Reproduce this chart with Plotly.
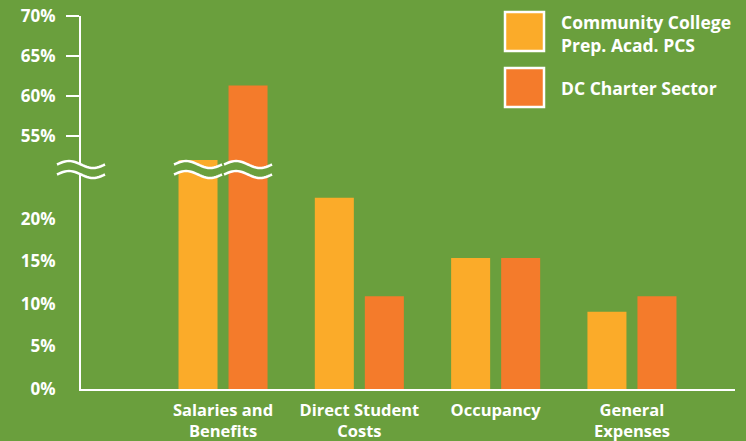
import math
import plotly.graph_objects as go

# ---------------- data ----------------
categories = ["Salaries and<br>Benefits", "Direct Student<br>Costs", "Occupancy", "General<br>Expenses"]
ccp_values = [52.0, 22.5, 15.4, 9.1]          # Community College Prep. Acad. PCS
dc_values = [61.3, 10.9, 15.4, 10.9]          # DC Charter Sector
series_names = ["Community College<br>Prep. Acad. PCS", "DC Charter Sector"]
lower_tick_vals = [0, 5, 10, 15, 20]
upper_tick_vals = [55, 60, 65, 70]

# ---------------- style ----------------
BG = "#6a9f3d"
YELLOW = "#fbab29"
ORANGE = "#f47b2b"
WHITE = "#ffffff"
FONT = "Open Sans"

W, H = 746, 441
L, R, T, B = 81, 11, 16, 52
PW, PH = W - L - R, H - T - B
X_RANGE = [-1.042, 3.756]
SPLIT = 0.5871
LOWER_RANGE = [0, 25.765]
UPPER_RANGE = [50.75, 70]


def px2x(px):
    return (px - L) / PW


def py2y(py):
    return (H - B - py) / PH


def idx2px(i):
    return L + (i - X_RANGE[0]) / (X_RANGE[1] - X_RANGE[0]) * PW


fig = go.Figure()
colors = [YELLOW, ORANGE]
vals = [ccp_values, dc_values]
for ya in ["y", "y2"]:
    for k in range(2):
        fig.add_trace(go.Bar(
            x=categories, y=vals[k], name=series_names[k],
            marker=dict(color=colors[k], line=dict(width=0)),
            yaxis=ya, showlegend=False, hoverinfo="skip",
        ))

tickfont = dict(family=FONT, size=17, color=WHITE, weight="bold")
pct = [f"{v}%" for v in lower_tick_vals]
pct_u = [f"{v}%" for v in upper_tick_vals]

fig.update_layout(
    width=W, height=H,
    margin=dict(l=L, r=R, t=T, b=B, pad=0),
    paper_bgcolor=BG, plot_bgcolor=BG,
    barmode="group", bargap=0.266, bargroupgap=0.22,
    showlegend=False,
    xaxis=dict(
        type="category", range=X_RANGE, anchor="y", automargin=False,
        showline=True, linecolor=WHITE, linewidth=2,
        ticks="", showgrid=False, zeroline=False,
        tickfont=dict(family=FONT, size=16.5, color=WHITE, weight="bold"),
        ticklabelstandoff=5,
    ),
    yaxis=dict(
        domain=[0, SPLIT], range=LOWER_RANGE, anchor="x", automargin=False,
        showline=True, linecolor=WHITE, linewidth=2,
        tickvals=lower_tick_vals, ticktext=pct, ticks="",
        showgrid=False, zeroline=False, tickfont=tickfont,
        ticklabelstandoff=20,
    ),
    yaxis3=dict(
        domain=[0, SPLIT], range=LOWER_RANGE, anchor="x", overlaying="y",
        side="left", showline=False, showticklabels=False, automargin=False,
        tickvals=lower_tick_vals[1:], ticks="outside", ticklen=13,
        tickwidth=2, tickcolor=WHITE, showgrid=False, zeroline=False,
    ),
    yaxis2=dict(
        domain=[SPLIT, 1], range=UPPER_RANGE, anchor="x", automargin=False,
        showline=True, linecolor=WHITE, linewidth=2,
        tickvals=upper_tick_vals, ticktext=pct_u, ticks="outside",
        ticklen=13, tickwidth=2, tickcolor=WHITE,
        showgrid=False, zeroline=False, tickfont=tickfont,
        ticklabelstandoff=7,
    ),
)


# ---------------- axis break (wavy band) ----------------
def wave_pts(x0, x1, yc, amp=3.5, n=24):
    pts = []
    for i in range(n + 1):
        t = i / n
        pts.append((x0 + (x1 - x0) * t, yc - amp * math.sin(2 * math.pi * t)))
    return pts


def path_of(pts, close=False):
    s = "M " + " L ".join(f"{px2x(x):.5f},{py2y(y):.5f}" for x, y in pts)
    return s + (" Z" if close else "")


TOP_Y, BOT_Y = 164.5, 174.5
segments = [(57, 105)]
slot_px = PW / (X_RANGE[1] - X_RANGE[0]) * (1 - 0.266) / 2
c0 = idx2px(0)
segments.append((c0 - slot_px / 2 - 24, c0 - slot_px / 2 + 24))
segments.append((c0 + slot_px / 2 - 24, c0 + slot_px / 2 + 24))

for x0, x1 in segments:
    top = wave_pts(x0, x1, TOP_Y)
    bot = wave_pts(x0, x1, BOT_Y)
    fig.add_shape(type="path", xref="paper", yref="paper",
                  path=path_of(top + bot[::-1], close=True),
                  fillcolor=BG, line=dict(width=0), layer="above")
    for w in (top, bot):
        fig.add_shape(type="path", xref="paper", yref="paper",
                      path=path_of(w), line=dict(color=WHITE, width=2.5),
                      layer="above")

# ---------------- legend (manual) ----------------
legend_boxes = [(504, 11), (504, 67)]
for k in range(2):
    bx, by = legend_boxes[k]
    fig.add_shape(type="rect", xref="paper", yref="paper",
                  x0=px2x(bx + 1), x1=px2x(bx + 40), y0=py2y(by + 40), y1=py2y(by + 1),
                  fillcolor=colors[k], line=dict(color=WHITE, width=2.5), layer="above")

legend_center_y = [33, 88]
for k in range(2):
    fig.add_annotation(
        xref="paper", yref="paper", x=px2x(559), y=py2y(legend_center_y[k]),
        xanchor="left", yanchor="middle", showarrow=False, text=series_names[k],
        align="left",
        font=dict(family=FONT, size=17.5, color=WHITE, weight="bold"),
    )

fig.write_html("out.html")
